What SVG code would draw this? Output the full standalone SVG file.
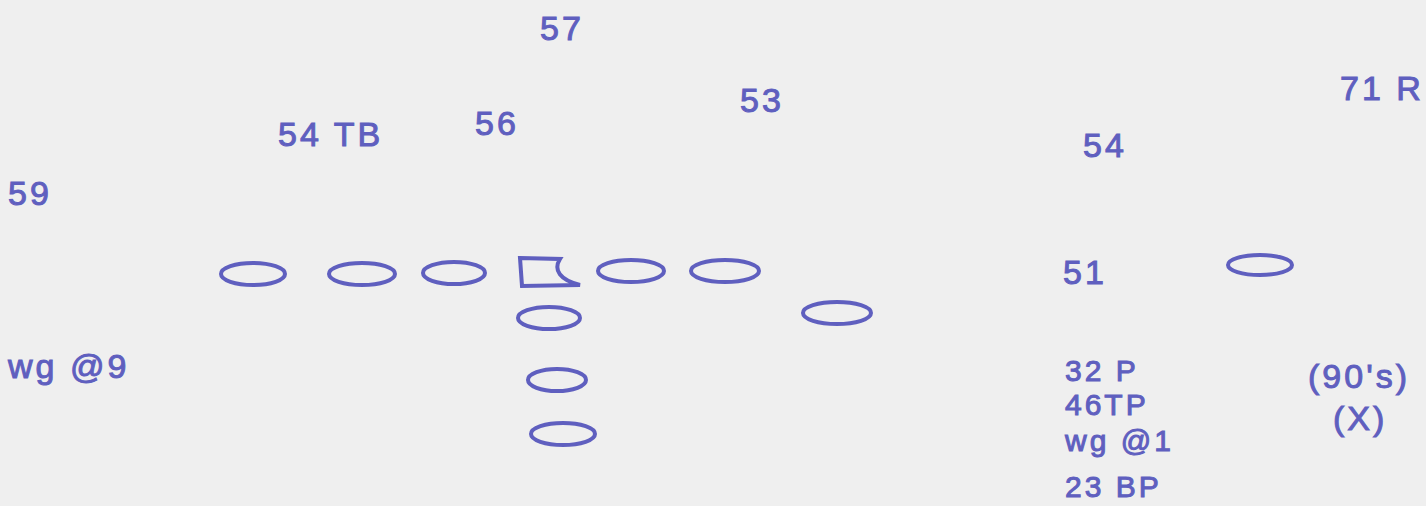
<svg xmlns="http://www.w3.org/2000/svg" width="1426" height="506" viewBox="0 0 1426 506">
<style>
.bg{fill:#efefef}
.p{fill:none;stroke:#5f5fbf;stroke-width:4}
.t{fill:#5f5fbf;stroke:#5f5fbf;stroke-width:1;font-family:"Liberation Sans",Arial,sans-serif;font-size:34px;letter-spacing:3px}
.s{font-size:30px;letter-spacing:3px}
</style>
<rect class="bg" x="0" y="0" width="1426" height="506"/>
<g id="labels">
<text class="t" x="540" y="40">57</text>
<text class="t" x="278" y="146">54 TB</text>
<text class="t" x="475" y="135">56</text>
<text class="t" x="740" y="112">53</text>
<text class="t" x="1083" y="157">54</text>
<text class="t" x="1340" y="100">71 R</text>
<text class="t" x="8" y="205">59</text>
<text class="t" x="8" y="378">wg @9</text>
<text class="t" x="1063" y="284">51</text>
<text class="t s" x="1065" y="381">32 P</text>
<text class="t s" x="1065" y="415">46TP</text>
<text class="t s" x="1065" y="451">wg @1</text>
<text class="t s" x="1065" y="497">23 BP</text>
<text class="t" x="1308" y="388">(90's)</text>
<text class="t" x="1333" y="430">(X)</text>
</g>
<g id="player1"><ellipse class="p" cx="253" cy="274" rx="32" ry="11"/></g>
<g id="player2"><ellipse class="p" cx="362" cy="274" rx="33" ry="11"/></g>
<g id="player3"><ellipse class="p" cx="454" cy="273" rx="31" ry="11"/></g>
<g id="center"><path class="p" d="M520,258 L560,259 C553,270 560,280 580,285 L522,286 Z"/></g>
<g id="player5"><ellipse class="p" cx="631" cy="271" rx="33" ry="11"/></g>
<g id="player6"><ellipse class="p" cx="725" cy="271" rx="34" ry="11"/></g>
<g id="player7"><ellipse class="p" cx="837" cy="313" rx="34" ry="11"/></g>
<g id="player8"><ellipse class="p" cx="1260" cy="265" rx="32" ry="10"/></g>
<g id="player9"><ellipse class="p" cx="549" cy="318" rx="31" ry="11"/></g>
<g id="player10"><ellipse class="p" cx="557" cy="380" rx="29" ry="11"/></g>
<g id="player11"><ellipse class="p" cx="563" cy="434" rx="32" ry="11"/></g>
<g id="connectors"></g>
</svg>
